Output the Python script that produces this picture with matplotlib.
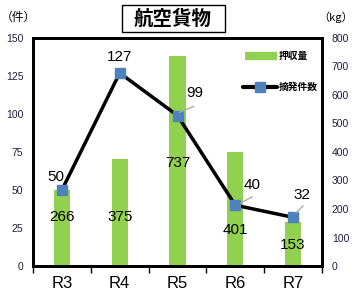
import numpy as np
import matplotlib
matplotlib.use("Agg")
import matplotlib.pyplot as plt
from matplotlib.patches import Rectangle

plt.rcParams['font.family'] = ['Noto Sans CJK JP', 'DejaVu Sans']

# data
years = ["R3", "R4", "R5", "R6", "R7"]
seized_kg = [266, 375, 737, 401, 153]
cases = [50, 127, 99, 40, 32]

x = np.arange(len(years))
green = "#92d050"
blue = "#4f81bd"
numfont = dict(family=['Liberation Sans', 'DejaVu Sans'])

fig = plt.figure(figsize=(3.55, 2.95), dpi=100)
ax = fig.add_axes([33/355, 1-266/295, 289/355, 228/295])
ax2 = ax.twinx()

# bars on the kg axis, line on the count axis
ax2.bar(x, seized_kg, width=0.28, color=green, zorder=1)
ax.set_zorder(ax2.get_zorder() + 1)
ax.patch.set_visible(False)
ax.plot(x, cases, color="black", lw=2.5, marker="s", ms=6.5,
        mfc=blue, mec=blue, zorder=3)

ax.set_xlim(-0.5, 4.5)
ax.set_ylim(0, 150)
ax2.set_ylim(0, 800)
ax.set_yticks(np.arange(0, 151, 25))
ax2.set_yticks(np.arange(0, 801, 100))

for a in (ax, ax2):
    a.tick_params(axis='y', length=0, labelsize=7.5, colors="#1f1f3f", pad=7)
    for lab in a.get_yticklabels():
        lab.set_family(numfont['family'])
    for s in a.spines.values():
        s.set_linewidth(2)
ax.set_xticks(x)
ax.set_xticklabels(years, fontsize=12, **numfont)
ax.set_xticks(np.arange(-0.5, 4.6, 1), minor=True)
ax.tick_params(axis='x', which='major', length=0, pad=7)
ax.tick_params(axis='x', which='minor', length=5, width=1)

# bar labels
bar_lab_y = [32, 32, 68, 24, 14]
for xi, v, yl in zip(x, seized_kg, bar_lab_y):
    ax.text(xi, yl, str(v), ha='center', va='center', fontsize=11, **numfont)

# line labels with leader lines
lab_pos = [(-0.1, 58.5), (0, 137.5), (0.29, 114), (0.29, 53), (0.16, 47)]
leaders = [None, None, (2.03, 101, 2.28, 105), (3.09, 41.4, 3.29, 45.4),
           (4.05, 35, 4.17, 39.5)]
for xi, v, (dx, ly), ld in zip(x, cases, lab_pos, leaders):
    ax.text(xi + dx, ly, str(v), ha='center', va='center', fontsize=11, **numfont)
    if ld:
        ax.plot([ld[0], ld[2]], [ld[1], ld[3]], color="#a6a6a6", lw=0.9, zorder=4)

# legend
ax.plot([3.17, 3.72], [138, 138], color=green, lw=6, solid_capstyle='butt')
ax.text(3.76, 138, "押収量", fontsize=7, va='center', fontweight='bold')
ax.plot([3.14, 3.72], [118, 118], color="black", lw=3, solid_capstyle='round')
ax.plot([3.43], [118], marker="s", ms=6.5, color=blue)
ax.text(3.76, 118, "摘発件数", fontsize=7, va='center', fontweight='bold')

# title and units
fig.patches.append(Rectangle((122/355, 1-32/295), 103/355, 27/295,
                             transform=fig.transFigure, fc='white', ec='black', lw=1))
fig.text(173/355, 1-19/295, "航空貨物", ha='center', va='center',
         fontsize=14, fontweight='bold')
fig.text(18/355, 1-17/295, "（件）", ha='center', va='center', fontsize=8.5)
fig.text(353/355, 1-17/295, "（kg）", ha='right', va='center', fontsize=8)

fig.savefig("out.png", dpi=100)
